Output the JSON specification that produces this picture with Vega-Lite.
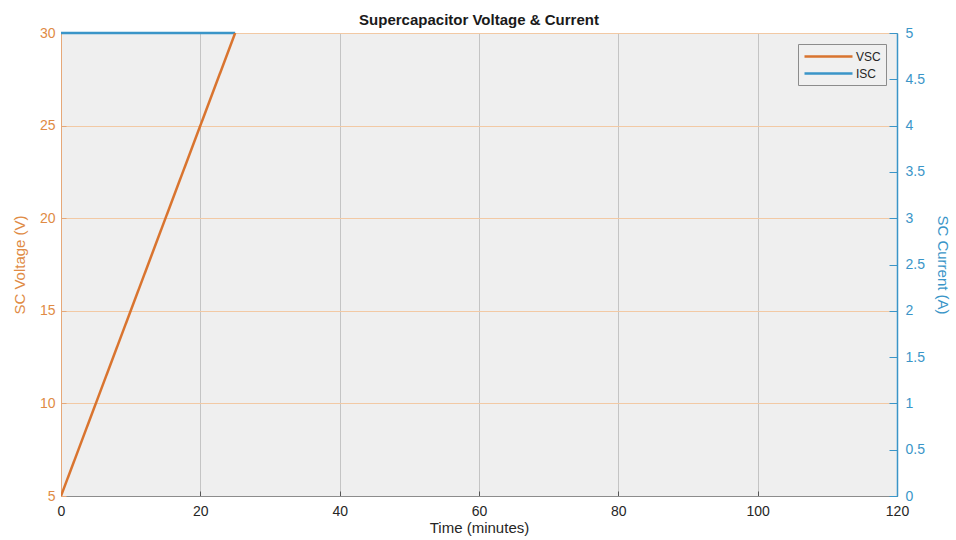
{
  "$schema": "https://vega.github.io/schema/vega-lite/v6.json",
  "width": 836,
  "height": 463,
  "autosize": {"type": "none"},
  "padding": {"left": 61, "top": 33, "right": 59, "bottom": 44},
  "background": "white",
  "title": {
    "text": "Supercapacitor Voltage & Current",
    "font": "Liberation Sans",
    "fontSize": 15,
    "fontWeight": "bold",
    "color": "#1a1a1a",
    "anchor": "middle",
    "offset": -2
  },
  "config": {
    "view": {"stroke": "#8c8c8c", "strokeWidth": 1, "fill": "#efefef"},
    "font": "Liberation Sans",
    "axis": {"labelFont": "Liberation Sans", "titleFont": "Liberation Sans", "titleFontWeight": "normal", "labelFlush": false}
  },
  "datasets": {
    "voltage": [
      {"t": 0, "v": 5, "series": "VSC"},
      {"t": 25, "v": 30, "series": "VSC"}
    ],
    "current": [
      {"t": 0, "i": 5, "series": "ISC"},
      {"t": 25, "i": 5, "series": "ISC"}
    ]
  },
  "layer": [
    {
      "data": {"name": "current"},
      "mark": {"type": "line", "strokeWidth": 2.5, "clip": false},
      "encoding": {
        "x": {
          "field": "t", "type": "quantitative",
          "scale": {"domain": [0, 120], "nice": false},
          "axis": {
            "title": "Time (minutes)",
            "values": [0, 20, 40, 60, 80, 100, 120],
            "labelFlush": false,
            "grid": true, "gridColor": "#c4c4c4", "gridOpacity": 1,
            "domainColor": "#8c8c8c", "tickColor": "#555555", "tickSize": -5,
            "labelColor": "#262626", "labelFontSize": 14, "labelPadding": 13,
            "titleColor": "#262626", "titleFontSize": 15, "titlePadding": 2
          }
        },
        "y": {
          "field": "i", "type": "quantitative",
          "scale": {"domain": [0, 5], "nice": false},
          "axis": {
            "orient": "right",
            "title": "SC Current (A)",
            "values": [0, 0.5, 1, 1.5, 2, 2.5, 3, 3.5, 4, 4.5, 5],
            "format": "~g",
            "labelFlush": false,
            "grid": false,
            "domainColor": "#3a95c8", "domainWidth": 1.5,
            "tickColor": "#3a95c8", "tickSize": -8,
            "labelColor": "#3a95c8", "labelFontSize": 14, "labelPadding": 16,
            "titleColor": "#3a95c8", "titleFontSize": 15, "titlePadding": 10
          }
        },
        "color": {
          "field": "series", "type": "nominal",
          "scale": {"domain": ["VSC", "ISC"], "range": ["#d9742f", "#3a95c8"]},
          "legend": {
            "title": null,
            "orient": "none",
            "legendX": 737,
            "legendY": 11,
            "symbolType": "M-1,0H7",
            "symbolStrokeWidth": 2.5,
            "symbolSize": 144,
            "labelOffset": 38,
            "labelFontSize": 12,
            "labelColor": "#262626",
            "strokeColor": "#8c8c8c",
            "fillColor": "#f0f0f0",
            "padding": 5,
            "rowPadding": 3
          }
        }
      }
    },
    {
      "data": {"name": "voltage"},
      "mark": {"type": "line", "strokeWidth": 2.5, "clip": true},
      "encoding": {
        "x": {"field": "t", "type": "quantitative"},
        "y": {
          "field": "v", "type": "quantitative",
          "scale": {"domain": [5, 30], "nice": false},
          "axis": {
            "orient": "left",
            "title": "SC Voltage (V)",
            "values": [5, 10, 15, 20, 25, 30],
            "labelFlush": false,
            "grid": true, "gridColor": "#f2c9a4", "gridOpacity": 1,
            "domainColor": "#e6a878", "tickColor": "#e6a878", "tickSize": -5,
            "labelColor": "#e08b45", "labelFontSize": 14, "labelPadding": 11,
            "titleColor": "#e08b45", "titleFontSize": 15, "titlePadding": 12
          }
        },
        "color": {"field": "series", "type": "nominal"}
      }
    }
  ],
  "resolve": {"scale": {"y": "independent"}}
}
